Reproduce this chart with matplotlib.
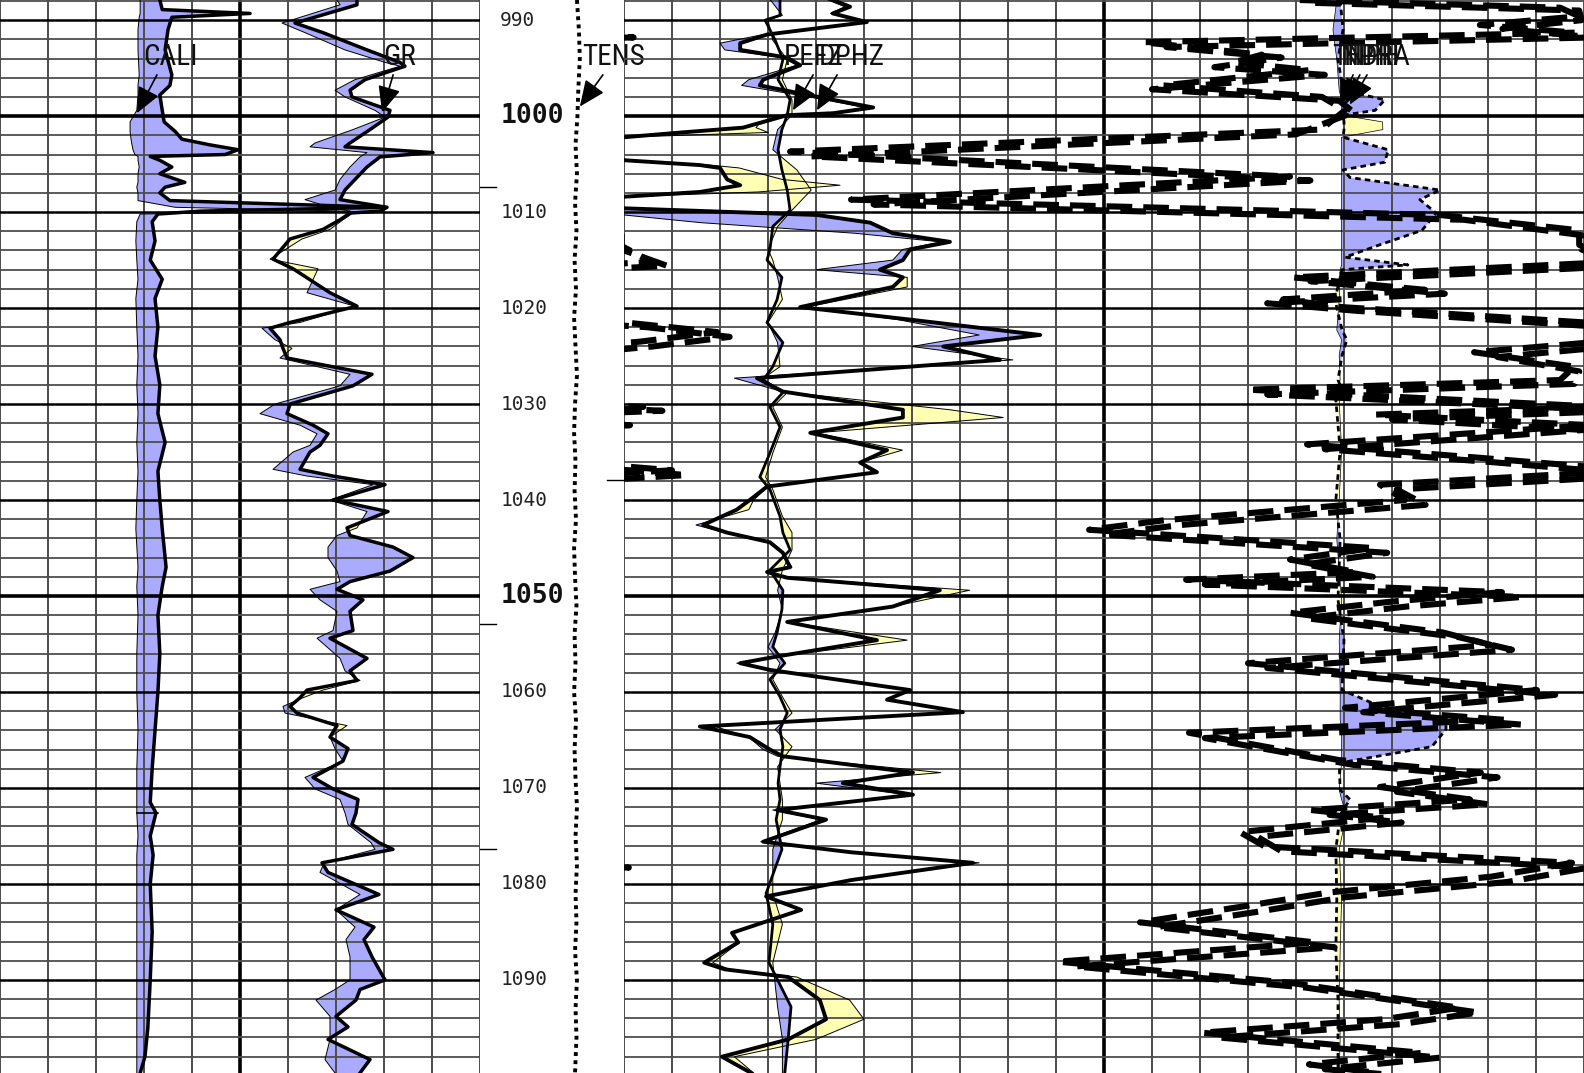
import numpy as np
import matplotlib.pyplot as plt
from matplotlib import font_manager

BLUE = '#aaaaff'
YELLOW = '#ffffb3'

# narrow face for the curve labels, if one is installed
available = {f.name for f in font_manager.fontManager.ttflist}
label_font = dict(family='DejaVu Sans', fontstretch='condensed')
for name in ['Liberation Sans Narrow', 'Roboto Condensed', 'Noto Sans Condensed',
             'Open Sans Condensed', 'DejaVu Sans Condensed']:
    if name in available:
        label_font = dict(family=name)
        break

# ---- track 1: caliper (in, 6-16) and gamma ray (API, 0-240) ----
cali_depth = [987.9, 988.9, 989.3, 989.7, 991.0, 993.1, 995.7, 996.8, 997.8, 999.4,
              1000.6, 1001.6, 1002.4, 1003.0, 1003.5, 1004.0, 1004.2, 1004.6, 1005.3, 1006.0,
              1006.9, 1007.4, 1008.0, 1008.8, 1009.5, 1009.9, 1010.2, 1011.0, 1013.0, 1015.0,
              1017.0, 1019.0, 1022.0, 1025.0, 1028.0, 1031.0, 1034.0, 1037.0, 1040.0, 1043.0,
              1047.0, 1049.0, 1052.0, 1056.0, 1060.0, 1064.0, 1068.0, 1071.5, 1072.6, 1075.0,
              1077.0, 1080.0, 1085.0, 1090.0, 1095.0, 1098.0, 1099.7]
cali = [9.33, 9.38, 11.21, 9.58, 9.50, 9.44, 9.58, 9.54, 9.33, 9.38,
        9.42, 9.65, 9.79, 10.38, 10.96, 10.69, 9.13, 9.33, 9.58, 9.33,
        9.85, 9.44, 9.33, 9.54, 14.02, 10.17, 9.29, 9.17, 9.23, 9.13,
        9.38, 9.23, 9.29, 9.23, 9.33, 9.29, 9.44, 9.29, 9.33, 9.38,
        9.46, 9.38, 9.29, 9.33, 9.29, 9.23, 9.17, 9.13, 9.25, 9.13,
        9.19, 9.13, 9.17, 9.13, 9.08, 9.02, 8.92]
bit = [8.92, 8.92, 8.92, 8.90, 8.875, 8.875, 8.90, 8.875, 8.875, 8.85,
       8.71, 8.71, 8.73, 8.75, 8.77, 8.81, 8.875, 8.875, 8.90, 8.875,
       8.875, 8.85, 8.875, 8.875, 9.65, 13.29, 8.92, 8.85, 8.83, 8.85,
       8.875, 8.83, 8.85, 8.875, 8.85, 8.875, 8.85, 8.875, 8.85, 8.83,
       8.875, 8.85, 8.875, 8.85, 8.85, 8.875, 8.85, 8.85, 8.85, 8.875,
       8.85, 8.85, 8.85, 8.85, 8.85, 8.85, 8.85]

gr_depth = [987.9, 988.4, 990.3, 991.3, 993.1, 994.4, 994.8, 996.2, 997.3, 998.0,
            999.4, 1000.1, 1001.4, 1002.8, 1003.2, 1003.8, 1004.25, 1005.3, 1006.6, 1007.7,
            1008.7, 1009.5, 1009.9, 1010.1, 1010.8,
            1011.8, 1012.8, 1014.9, 1015.9, 1018.4, 1019.8, 1021.5, 1022.1, 1023.3, 1024.2,
            1025.2, 1026.9, 1028.1, 1030.0, 1031.0, 1032.2, 1033.1, 1034.3, 1035.0, 1036.8,
            1037.5, 1038.4, 1040.0, 1041.2, 1042.9, 1043.7, 1044.9, 1046.0, 1047.4, 1048.5,
            1049.3, 1050.4, 1051.6, 1053.6, 1054.4, 1056.5, 1057.8, 1058.8, 1059.8, 1060.6,
            1061.5, 1062.2, 1063.5, 1064.7, 1065.9, 1067.2, 1068.9, 1070.1,
            1071.2,
            1072.6, 1073.8, 1075.7, 1076.4, 1077.8, 1078.8, 1081.1, 1082.7, 1084.5, 1085.8,
            1087.6, 1090.0, 1091.0, 1092.1, 1093.8, 1094.9, 1096.2, 1098.3, 1099.7]
gr = [178.5, 178.5, 147.5, 161.5, 183.5, 200, 202.5, 182.5, 175, 176,
      195, 194, 185, 175, 172.5, 216.5, 190, 183.5, 177.5, 172.5,
      170, 193.5, 190, 175, 170,
      161.5, 145, 136.5, 146.5, 165, 178.5, 145, 135, 140, 141.5,
      143.5, 186, 176.5, 145, 143.5, 156.5, 164, 160, 155, 150,
      166.5, 192.5, 166.5, 194, 173.5, 175, 196.5, 206.5, 195, 175,
      168.5, 181.5, 175, 176.5, 165, 183.5, 175, 178.5, 153.5, 150,
      145, 148.5, 168.5, 165, 174, 171.5, 156.5, 166.5,
      179,
      178, 176, 189.5, 196.5, 161, 164, 189.5, 168, 187, 182,
      186, 192.5, 180, 178, 168, 174, 164, 185, 180]
gr_ref = [168.5, 170, 141, 152.5, 172.5, 192.5, 200, 177.5, 167.5, 172.5,
          187.5, 192.5, 176.5, 157.5, 155, 183.5, 180, 175, 170, 167.5,
          152.5, 165, 175, 176.5, 171.5,
          165, 151, 135, 159, 153.5, 177.5, 150, 131, 137.5, 146,
          140, 175, 170, 137.5, 130, 150, 158.5, 155, 146.5, 136.5,
          153.5, 186.5, 165, 183.5, 178.5, 168.5, 164, 164, 168.5, 170,
          155, 160, 168.5, 166.5, 158.5, 170, 172.5, 180, 161.5, 151.5,
          141.5, 142.5, 173.5, 165, 167.5, 171.5, 152.5, 157.5,
          170,
          172.5, 174, 185.5, 187.5, 162, 160, 180, 168, 177.5, 173,
          175, 175, 167.5, 158, 165, 165, 165, 162.5, 167.5]

# ---- depth track: cable tension (klbf, 0-3 across the track) ----
tens_depth = [987.9, 991, 994, 997, 1000, 1003, 1006, 1009, 1012, 1015,
              1018, 1021, 1024, 1027, 1030, 1033, 1036, 1039, 1042, 1045,
              1048, 1051, 1054, 1057, 1060, 1063, 1066, 1069, 1072, 1075,
              1078, 1081, 1084, 1087, 1090, 1093, 1096, 1099.7]
tens = [2.02, 2.06, 2.08, 2.05, 2.03, 1.99, 2.02, 1.98, 2.01, 1.97,
        2.00, 1.96, 1.99, 2.02, 1.98, 1.96, 1.99, 1.97, 2.00, 1.96,
        1.98, 2.01, 1.97, 1.99, 1.96, 2.00, 1.97, 1.99, 2.02, 1.99,
        2.02, 1.99, 2.01, 1.98, 2.02, 1.99, 2.01, 1.98]

# ---- track 2 (0-20 chart units) ----
dphz_depth = [987.9, 988.6, 989.3, 990.2, 991.5, 992.4, 993.1, 993.9, 994.7, 996.2,
              996.8, 998.3, 999.1, 999.7, 999.9, 1000.9, 1001.2, 1001.7, 1002.2, 1003.0,
              1004.0, 1004.6, 1005.1, 1005.4, 1006.6, 1007.2, 1007.9, 1008.4, 1008.9, 1009.6,
              1010.3, 1011.1, 1012.2, 1013.1, 1013.9, 1015.0, 1016.0, 1016.8, 1017.8, 1019.9,
              1021.2, 1022.8, 1024.0, 1025.4, 1027.3, 1028.7, 1030.6, 1031.4, 1033.0, 1034.8,
              1036.1, 1037.1, 1038.6, 1040.0, 1041.0, 1042.6, 1043.4, 1044.4, 1045.5, 1047.0,
              1047.5, 1048.1, 1049.4, 1051.1, 1052.7, 1054.6, 1056.3, 1057.0, 1057.7, 1059.8,
              1060.8, 1062.1, 1063.6, 1064.7, 1066.0, 1066.7, 1068.4, 1069.5, 1070.7, 1072.3,
              1073.3, 1075.6, 1076.7, 1077.8, 1079.6, 1081.3, 1082.7, 1085.1, 1086.1, 1088.2,
              1088.9, 1089.7, 1092.1, 1094.1, 1096.2, 1098.0, 1099.7]
dphz = [4.35, 4.71, 4.35, 5.06, 2.98, 2.42, 2.42, 3.40, 3.67, 2.90,
        2.83, 4.35, 5.19, 4.35, 3.40, 2.69, 2.48, 1.2, 0.0, -1.5,
        -1.5, 0.02, 1.58, 2.0, 2.15, 2.42, 1.58, 0.0, -1.5, -0.02,
        4.02, 5.13, 5.60, 6.79, 5.96, 5.81, 5.33, 5.81, 5.60, 3.67,
        5.96, 8.67, 6.65, 7.83, 2.77, 3.31, 5.81, 5.81, 3.88, 5.48,
        4.92, 5.27, 2.98, 2.62, 2.35, 1.65, 2.15, 3.04, 3.31, 3.46,
        2.98, 3.40, 6.58, 5.60, 3.40, 5.27, 3.19, 2.42, 3.04, 5.96,
        5.48, 7.06, 1.58, 2.62, 3.04, 3.31, 6.02, 4.56, 6.02, 3.19,
        4.21, 2.90, 4.73, 7.27, 4.73, 2.96, 3.69, 2.25, 2.38, 1.67,
        2.10, 3.42, 4.08, 4.21, 3.42, 2.04, 2.65]
dphz_ref = [4.25, 4.6, 4.3, 4.95, 2.9, 2.0, 2.1, 3.3, 3.6, 2.6,
            2.45, 4.2, 5.0, 4.3, 3.4, 2.8, 2.75, 3.0, 0.0, -1.5,
            -1.5, 0.1, 1.8, 2.4, 3.3, 4.5, 2.8, 0.0, -1.5, -0.5,
            0.0, 1.6, 4.8, 6.6, 5.8, 5.6, 4.0, 5.9, 5.9, 3.8,
            5.7, 7.4, 6.0, 8.1, 2.3, 3.3, 6.8, 7.9, 4.0, 5.8,
            4.9, 5.2, 3.0, 2.7, 2.6, 1.5, 2.1, 3.0, 3.3, 3.5,
            3.0, 3.5, 7.2, 5.6, 3.4, 5.9, 3.2, 2.35, 3.0, 5.9,
            5.5, 7.0, 1.9, 2.6, 2.9, 3.2, 6.6, 4.0, 5.9, 3.1,
            4.1, 2.85, 4.7, 7.4, 4.7, 3.0, 3.7, 2.25, 2.4, 1.85,
            2.2, 3.6, 4.7, 5.0, 4.0, 2.3, 2.7]

pefz_depth = [987.9, 989.5, 990.0, 992.1, 994.1, 996.2, 998.3, 999.9, 1001.4, 1003.5,
              1005.6, 1007.7, 1009.8, 1011.5, 1013.9, 1015.0, 1016.8, 1019.1, 1021.5, 1023.6,
              1026.1, 1027.5, 1028.8, 1030.3, 1032.4, 1035.1, 1037.6, 1038.9, 1041.7, 1043.4,
              1045.2, 1047.3, 1049.4, 1051.4, 1053.8, 1055.3, 1057.0, 1058.7, 1060.5, 1062.2,
              1063.9, 1065.7, 1067.8, 1069.5, 1071.2, 1073.3, 1076.4, 1081.0, 1084.2, 1088.2,
              1092.8, 1096.2, 1099.7]
pefz = [3.25, 3.25, 2.94, 3.15, 3.31, 3.21, 3.46, 3.40, 3.29, 3.21,
        3.29, 3.40, 3.46, 3.10, 3.04, 2.98, 3.29, 3.19, 2.98, 3.31,
        3.10, 2.90, 3.31, 3.04, 3.25, 3.04, 2.83, 3.04, 3.25, 3.31,
        3.46, 3.04, 3.31, 3.29, 3.19, 3.10, 3.35, 3.04, 3.25, 3.40,
        3.25, 3.31, 3.25, 3.21, 3.25, 3.17, 3.29, 2.96, 3.10, 3.02,
        3.48, 3.42, 3.35]
pefz_ref = [3.05, 3.30, 3.00, 3.10, 3.40, 3.30, 3.50, 3.50, 3.20, 3.10,
            3.60, 3.90, 3.50, 3.20, 3.00, 3.10, 3.20, 3.30, 3.00, 3.20,
            3.25, 2.85, 3.40, 3.10, 3.30, 3.10, 2.95, 3.10, 3.30, 3.50,
            3.50, 3.30, 3.20, 3.30, 3.15, 3.00, 3.25, 3.10, 3.30, 3.50,
            3.15, 3.50, 3.20, 3.25, 3.30, 3.30, 3.10, 3.10, 3.30, 3.10,
            3.20, 3.30, 3.30]

tnph_depth = [987.9, 988.7, 989.6, 990.5, 991.3, 992.3, 993.6, 994.4, 995.2, 996.8,
              998.0, 999.4, 1001.4, 1003.7, 1006.3, 1008.7, 1010.3, 1011.9, 1013.4, 1015.2,
              1016.8, 1018.1, 1019.1, 1019.9, 1021.5, 1022.5, 1023.5, 1024.6, 1026.1, 1027.5,
              1028.5, 1030.3, 1031.1, 1032.2, 1034.2, 1035.6, 1036.9, 1038.4, 1040.0, 1042.1,
              1043.1, 1045.0, 1046.2, 1047.5, 1048.3, 1049.6, 1050.6, 1051.75, 1053.8, 1055.1,
              1057.0, 1059.8, 1061.65, 1062.9, 1064.25, 1067.1, 1068.4, 1069.9, 1071.2, 1072.3,
              1073.1, 1074.6, 1076.1, 1077.8, 1079.25, 1080.9, 1082.4, 1084.0, 1086.1, 1088.1,
              1090.3, 1092.9, 1094.1, 1095.5, 1097.6, 1098.8, 1099.7]
tnph = [14.08, 19.5, 19.9, 17.83, 19.81, 10.81, 13.29, 12.69, 14.29, 11.23,
        14.54, 15.02, 14.52, 3.46, 13.875, 4.73, 17.0, 19.9, 19.9, 20.58,
        13.94, 16.69, 13.73, 14.96, 20.02, 21.94, 20.33, 17.71, 19.8, 19.5,
        13.0, 20.4, 15.65, 20.125, 14.23, 17.83, 21.0, 15.75, 16.27, 11.27,
        9.69, 15.6, 13.875, 15.25, 11.71, 18.29, 15.96, 13.875, 17.06, 18.06,
        13.0, 19.02, 15.02, 18.35, 11.77, 14.9, 17.85, 15.75, 17.625, 14.31,
        15.83, 12.83, 13.35, 19.75, 18.06, 14.67, 12.83, 10.75, 14.4, 9.04,
        13.875, 17.4, 15.83, 12.04, 16.625, 14.27, 15.71]

nphi_depth = [988.2, 989.0, 990.0, 990.9, 991.8, 992.8, 993.9, 994.9, 995.7, 997.2,
              998.4, 999.6, 1001.9, 1004.2, 1006.7, 1009.2, 1010.8, 1012.4, 1013.9, 1015.6,
              1017.2, 1018.5, 1019.5, 1020.3, 1022.0, 1023.0, 1024.0, 1025.1, 1026.6, 1027.9,
              1029.0, 1030.7, 1031.6, 1032.7, 1034.7, 1036.1, 1037.4, 1038.9, 1040.5, 1042.6,
              1043.6, 1045.5, 1046.7, 1048.0, 1048.8, 1050.1, 1051.1, 1052.3, 1054.3, 1055.6,
              1057.5, 1060.3, 1062.1, 1063.4, 1064.8, 1067.6, 1068.9, 1070.4, 1071.7, 1072.8,
              1073.6, 1075.1, 1076.6, 1078.3, 1079.8, 1081.4, 1082.9, 1084.5, 1086.6, 1088.6,
              1090.8, 1093.4, 1094.6, 1096.0, 1098.1, 1099.3, 1099.9]
nphi = [14.4, 19.9, 19.95, 18.3, 20.2, 11.3, 13.7, 12.3, 14.6, 11.0,
        14.9, 15.2, 14.0, 3.9, 14.3, 5.2, 17.5, 19.95, 19.95, 20.9,
        14.3, 17.1, 13.4, 15.3, 20.5, 22.2, 20.6, 18.2, 19.9, 19.8,
        13.4, 20.8, 16.0, 20.0, 14.6, 18.2, 21.3, 16.1, 16.7, 11.6,
        10.0, 15.9, 14.2, 15.6, 12.1, 18.7, 16.3, 14.2, 17.4, 18.5,
        13.4, 19.4, 15.4, 18.7, 12.1, 15.2, 18.2, 16.1, 18.0, 14.7,
        16.2, 13.2, 13.7, 20.1, 18.4, 15.0, 13.2, 11.1, 14.8, 9.4,
        14.2, 17.8, 16.2, 12.4, 17.0, 14.6, 16.0]

hdra_depth = [987.9, 991.0, 994.1, 997.3, 998.3, 999.4, 999.9, 1000.6, 1001.4, 1002.2,
              1003.5, 1004.8, 1005.6, 1006.4, 1007.7, 1008.7, 1010.1, 1011.9, 1013.4, 1014.7,
              1015.5, 1016.0, 1019.1, 1022.3, 1023.3, 1024.9, 1027.5, 1028.5, 1029.6, 1034.8,
              1040.0, 1044.1, 1050.4, 1054.6, 1059.8, 1061.5, 1062.9, 1063.9, 1065.7, 1067.4,
              1070.2, 1071.2, 1072.8, 1076.4, 1081.6, 1086.9, 1092.1, 1096.2, 1099.7]
hdra = [14.92, 14.98, 14.875, 14.98, 15.85, 15.65, 14.98, 15.0, 15.0, 14.98,
        15.92, 15.85, 14.98, 15.125, 17.0, 16.58, 16.92, 16.625, 15.75, 15.02,
        16.33, 14.96, 14.81, 14.96, 15.06, 14.96, 14.875, 14.96, 14.83, 14.92,
        14.83, 14.92, 14.875, 15.0, 14.96, 15.75, 17.125, 17.125, 16.83, 14.9,
        14.92, 15.125, 14.92, 14.83, 14.85, 14.83, 14.875, 14.875, 14.875]
hdra_ref = [14.85, 14.77, 14.85, 14.9, 14.95, 14.95, 14.95, 15.8, 15.81, 14.95,
            14.95, 14.95, 14.95, 14.95, 14.95, 14.95, 14.95, 14.95, 14.95, 14.95,
            14.95, 14.92, 14.9, 14.85, 14.95, 14.9, 14.92, 14.85, 14.9, 14.95,
            14.9, 14.85, 14.95, 14.9, 14.92, 14.92, 14.92, 14.95, 14.95, 14.95,
            14.9, 14.95, 15.05, 14.9, 14.95, 14.92, 14.9, 14.92, 14.9]

depth_labels = [990, 1000, 1010, 1020, 1030, 1040, 1050, 1060, 1070, 1080, 1090]
bold_labels = [1000, 1050]
marker_depths = [1007.4, 1052.9, 1076.4]


def shade(ax, depth, curve, ref, thick=2.5):
    d = np.array(depth)
    c = np.array(curve)
    r = np.array(ref)
    ax.fill_betweenx(d, r, c, where=c >= r, color=BLUE, lw=0, interpolate=True, zorder=1)
    ax.fill_betweenx(d, r, c, where=c < r, color=YELLOW, lw=0, interpolate=True, zorder=1)
    ax.plot(r, d, color='k', lw=0.7, zorder=4)
    ax.plot(c, d, color='k', lw=thick, zorder=5, solid_joinstyle='round')


def grid(ax, ncols, heavy):
    for k in range(ncols + 1):
        if k == heavy:
            ax.axvline(k, color='k', lw=2.6, zorder=2)
        else:
            ax.axvline(k, color='#4d4d4d', lw=1.4, zorder=2)
    for dep in range(988, 1100, 2):
        if dep in bold_labels:
            ax.axhline(dep, color='k', lw=2.6, zorder=2)
        elif dep % 10 == 0:
            ax.axhline(dep, color='k', lw=1.8, zorder=2)
        else:
            ax.axhline(dep, color='#4d4d4d', lw=1.3, zorder=2)


W, H = 1584, 1073
fig = plt.figure(figsize=(W / 100, H / 100), dpi=100)
ax1 = fig.add_axes([0, 0, 480 / W, 1])
axd = fig.add_axes([480 / W, 0, 144 / W, 1], sharey=ax1)
ax2 = fig.add_axes([624 / W, 0, 960 / W, 1], sharey=ax1)
for ax in (ax1, axd, ax2):
    ax.set_axis_off()
ax1.set_ylim(1099.7, 987.9)

# track 1 in 10 divisions; GR 0-240 API, caliper 6-16 in on the same grid
ax1.set_xlim(0, 10)
grid(ax1, 10, 5)
shade(ax1, gr_depth, np.array(gr) / 24.0, np.array(gr_ref) / 24.0)
shade(ax1, cali_depth, np.array(cali) - 6.0, np.array(bit) - 6.0)
ax1.plot([2.85, 3.3], [1072.6, 1072.6], color='k', lw=1.2, zorder=5)

# depth track
axd.set_xlim(0, 3)
for dep in depth_labels:
    if dep in bold_labels:
        axd.text(0.42, dep, str(dep), ha='left', va='center', fontsize=19,
                 fontweight='bold', family='DejaVu Sans Mono', color='#111111')
    else:
        axd.text(0.42, dep, str(dep), ha='left', va='center', fontsize=14,
                 family='DejaVu Sans Mono', color='#222222')
for dep in marker_depths:
    axd.plot([0, 0.33], [dep, dep], color='k', lw=1.0)
axd.plot([2.65, 3.0], [1037.9, 1037.9], color='k', lw=1.0)
axd.plot(tens, tens_depth, color='k', lw=2.8, ls=(0, (1.0, 1.1)))

# track 2 in 20 divisions
ax2.set_xlim(0, 20)
grid(ax2, 20, 10)
shade(ax2, dphz_depth, dphz, dphz_ref, thick=2.8)
shade(ax2, pefz_depth, pefz, pefz_ref, thick=2.0)
h = np.array(hdra)
hr = np.array(hdra_ref)
hd = np.array(hdra_depth)
ax2.fill_betweenx(hd, hr, h, where=h >= hr, color=BLUE, lw=0, interpolate=True, zorder=1)
ax2.fill_betweenx(hd, hr, h, where=h < hr, color=YELLOW, lw=0, interpolate=True, zorder=1)
ax2.plot(hr, hd, color='k', lw=0.5, zorder=4)
ax2.plot(h, hd, color='k', lw=2.0, ls=(0, (2.0, 1.5)), zorder=5)
# neutron curves wrap around past the right edge of the track
for dep, val in ((tnph_depth, tnph), (nphi_depth, nphi)):
    v = np.array(val)
    for shift in (0, -20):
        ax2.plot(v + shift, dep, color='k', lw=4.4, ls=(0, (4.2, 1.8)), zorder=6)

# curve labels with arrows
lab = dict(fontsize=21, color='#111111', ha='center', va='center', zorder=8, **label_font)
arr = dict(arrowstyle='-|>,head_length=0.8,head_width=0.35', color='k', lw=1.2,
           mutation_scale=20, shrinkA=0, shrinkB=0)

ax1.text(3.55, 993.8, 'CALI', **lab)
ax1.annotate('', xy=(2.85, 999.7), xytext=(3.27, 995.7), arrowprops=arr, zorder=8)
ax1.text(8.33, 993.8, 'GR', **lab)
ax1.annotate('', xy=(7.96, 999.6), xytext=(8.19, 995.7), arrowprops=arr, zorder=8)

axd.text(2.79, 993.8, 'TENS', **lab)
axd.annotate('', xy=(2.08, 999.0), xytext=(2.56, 995.7), arrowprops=arr,
             annotation_clip=False, zorder=8)

ax2.text(3.95, 993.8, 'PEFZ', **lab)
ax2.text(4.75, 993.8, 'DPHZ', **lab)
ax2.annotate('', xy=(3.52, 999.4), xytext=(3.94, 995.7), arrowprops=arr, zorder=8)
ax2.annotate('', xy=(4.02, 999.4), xytext=(4.44, 995.7), arrowprops=arr, zorder=8)

ax2.text(15.45, 993.8, 'TNPH', **lab)
ax2.text(15.55, 993.8, 'NPHI', **lab)
ax2.text(15.7, 993.8, 'HDRA', **lab)
for x0, x1 in ((15.19, 14.92), (15.33, 15.02), (15.48, 15.12)):
    ax2.annotate('', xy=(x1, 998.8), xytext=(x0, 995.7), arrowprops=arr, zorder=8)

fig.savefig('out.png', dpi=100)
